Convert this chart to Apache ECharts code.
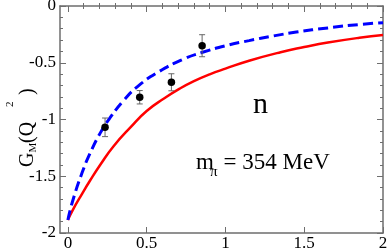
<!DOCTYPE html>
<html>
<head>
<meta charset="utf-8">
<script src="https://cdn.jsdelivr.net/npm/echarts@6/dist/echarts.min.js"></script>
<style>html,body{margin:0;padding:0;background:#fff}#c{width:388px;height:250px}</style>
</head>
<body>
<div id="c"></div>
<script>
// ---- data ----
const xTicks = [0, 0.5, 1, 1.5, 2];
const xMinorTicks = [0.1, 0.2, 0.3, 0.4, 0.6, 0.7, 0.8, 0.9, 1.1, 1.2, 1.3, 1.4, 1.6, 1.7, 1.8, 1.9];
const yTickLabels = ['-2', '-1.5', '-1', '-0.5', '0'];

const redX = [0, 0.03, 0.09, 0.14, 0.21, 0.29, 0.40, 0.50, 0.61, 0.71, 0.80, 0.90, 1.00, 1.15, 1.35, 1.50, 1.65, 1.85, 2.00];
const redY = [-1.885, -1.80, -1.655, -1.54, -1.39, -1.235, -1.065, -0.925, -0.815, -0.728, -0.662, -0.602, -0.552, -0.482, -0.407, -0.362, -0.322, -0.280, -0.256];

const blueX = [0, 0.03, 0.09, 0.14, 0.205, 0.27, 0.355, 0.44, 0.57, 0.73, 0.85, 1.00, 1.15, 1.30, 1.45, 1.65, 1.85, 2.00];
const blueY = [-1.885, -1.72, -1.47, -1.30, -1.12, -0.98, -0.83, -0.712, -0.585, -0.47, -0.41, -0.35, -0.305, -0.265, -0.230, -0.193, -0.163, -0.147];

const dataX = [0.236, 0.456, 0.657, 0.852];
const dataY = [-1.069, -0.804, -0.672, -0.350];
const dataErr = [0.082, 0.059, 0.075, 0.097];

// ---- chart ----
const FONT = '"Liberation Serif", serif';
const FRAME = '#6e6e6e';
const chart = echarts.init(document.getElementById('c'), null, {renderer: 'canvas'});

const xBase = {
  type: 'value', min: -0.05, max: 2,
  splitLine: {show: false},
  axisLine: {show: true, onZero: false, lineStyle: {color: FRAME, width: 1.5}}
};
const majorX = {show: true, inside: true, length: 6, customValues: xTicks, lineStyle: {color: FRAME, width: 1}};
const minorX = {show: true, inside: true, length: 3, customValues: xMinorTicks, lineStyle: {color: FRAME, width: 1}};

const yBase = {
  type: 'value', min: -2, max: 0, interval: 0.5,
  splitLine: {show: false},
  axisLine: {show: true, onZero: false, lineStyle: {color: FRAME, width: 1.5}},
  axisTick: {show: true, inside: true, length: 6, lineStyle: {color: FRAME, width: 1}},
  minorTick: {show: true, splitNumber: 5, length: 3, lineStyle: {color: FRAME, width: 1}}
};

function rt(text, x, y, size) {
  return {
    type: 'text', x: x, y: y, rotation: Math.PI / 2, z: 10,
    style: {text: text, font: size + 'px ' + FONT, fill: '#000',
      align: 'left', verticalAlign: 'middle', textAlign: 'left', textVerticalAlign: 'middle'}
  };
}
function ht(text, x, y, size, align) {
  return {
    type: 'text', x: x, y: y, z: 10,
    style: {text: text, font: size + 'px ' + FONT, fill: '#000',
      align: align, verticalAlign: 'middle', textAlign: align, textVerticalAlign: 'middle'}
  };
}

const option = {
  animation: false,
  backgroundColor: '#fff',
  textStyle: {fontFamily: FONT},
  grid: {left: 60, right: 5, top: 6, bottom: 17, containLabel: false, outerBoundsMode: 'none'},
  xAxis: [
    Object.assign({}, xBase, {position: 'bottom', axisTick: majorX,
      axisLabel: {show: true, customValues: xTicks, fontFamily: FONT, fontSize: 17, color: '#000', margin: 2,
        formatter: v => String(v)}}),
    Object.assign({}, xBase, {position: 'bottom', axisLine: {show: false}, axisTick: minorX, axisLabel: {show: false}}),
    Object.assign({}, xBase, {position: 'top', axisTick: majorX, axisLabel: {show: false}}),
    Object.assign({}, xBase, {position: 'top', axisLine: {show: false}, axisTick: minorX, axisLabel: {show: false}})
  ],
  yAxis: [
    Object.assign({}, yBase, {position: 'left',
      axisLabel: {show: true, fontFamily: FONT, fontSize: 17, color: '#000', margin: 4,
        formatter: v => yTickLabels[Math.round((v + 2) / 0.5)]}}),
    Object.assign({}, yBase, {position: 'right', axisLabel: {show: false}})
  ],
  series: [
    {
      type: 'line', xAxisIndex: 0, yAxisIndex: 0,
      data: redX.map((x, i) => [x, redY[i]]),
      smooth: 0.5, showSymbol: false, symbol: 'none',
      lineStyle: {color: '#ff0000', width: 2.5}, z: 2
    },
    {
      type: 'line', xAxisIndex: 0, yAxisIndex: 0,
      data: blueX.map((x, i) => [x, blueY[i]]),
      smooth: 0.5, showSymbol: false, symbol: 'none',
      lineStyle: {color: '#0000ff', width: 3, type: [10, 5]}, z: 3
    },
    {
      type: 'custom', xAxisIndex: 0, yAxisIndex: 0, z: 4,
      data: dataX.map((x, i) => [x, dataY[i] - dataErr[i], dataY[i] + dataErr[i]]),
      encode: {x: 0, y: [1, 2]},
      renderItem: function (params, api) {
        const x = api.value(0);
        const pLo = api.coord([x, api.value(1)]);
        const pHi = api.coord([x, api.value(2)]);
        const w = 3;
        const st = {stroke: '#666', lineWidth: 1};
        return {type: 'group', children: [
          {type: 'line', shape: {x1: pHi[0], y1: pHi[1], x2: pLo[0], y2: pLo[1]}, style: st},
          {type: 'line', shape: {x1: pHi[0] - w, y1: pHi[1], x2: pHi[0] + w, y2: pHi[1]}, style: st},
          {type: 'line', shape: {x1: pLo[0] - w, y1: pLo[1], x2: pLo[0] + w, y2: pLo[1]}, style: st}
        ]};
      }
    },
    {
      type: 'scatter', xAxisIndex: 0, yAxisIndex: 0, z: 5,
      data: dataX.map((x, i) => [x, dataY[i]]),
      symbol: 'circle', symbolSize: 7.5,
      itemStyle: {color: '#000', opacity: 1}
    }
  ],
  graphic: [
    ht('n', 260.5, 105, 30, 'center'),
    ht('m', 196, 163, 23, 'left'),
    ht('π', 210, 172, 15, 'left'),
    ht('= 354 MeV', 223.5, 163, 23, 'left'),
    rt('G', 27.5, 167, 20),
    rt('M', 33.5, 152.5, 11),
    rt('(Q', 27.5, 143, 20),
    rt('2', 10, 107, 11),
    rt(')', 27.5, 95, 20)
  ]
};
chart.setOption(option);
</script>
</body>
</html>
